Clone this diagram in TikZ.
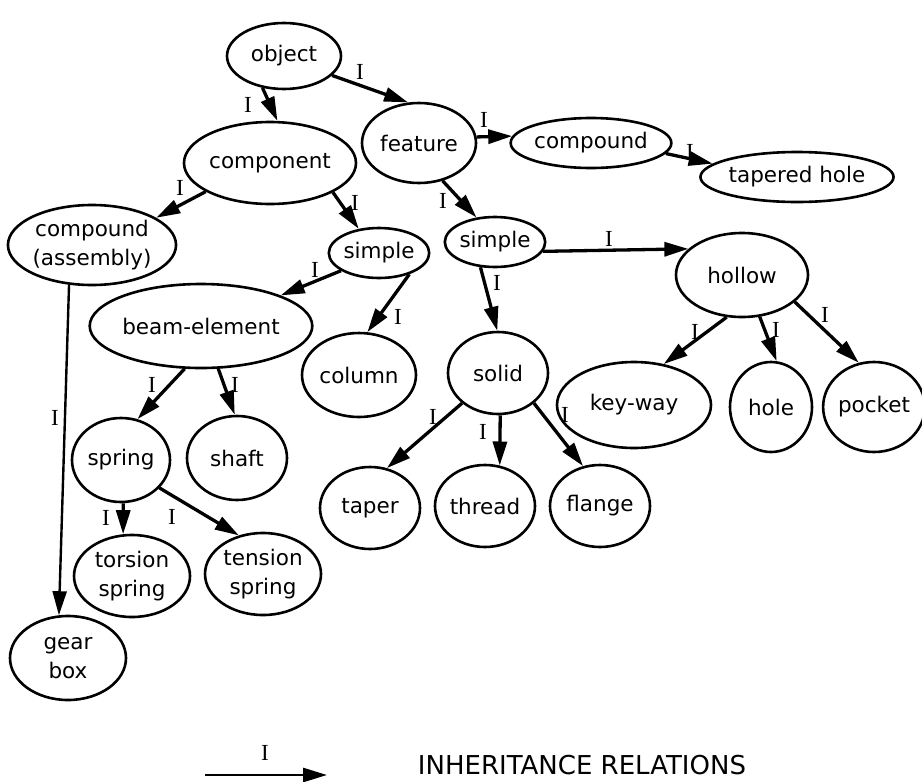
\documentclass[tikz,border=0pt]{standalone}
\usepackage{fontspec}
\setmainfont{DejaVu Sans}
\newfontfamily\labelserif{Liberation Serif}
\usetikzlibrary{arrows.meta,shapes.geometric}
\begin{document}
\begin{tikzpicture}[x=1pt,y=-1pt,
  cls/.style={draw, ellipse, line width=2.6pt, inner sep=0pt, align=center,
    font=\fontsize{21.5}{29}\selectfont},
  inh/.style={line width=3.3pt, -{Triangle[length=24pt,width=14pt]}},
  lab/.style={font=\labelserif\fontsize{23}{23}\selectfont, inner sep=0pt}
]
\useasboundingbox (0,0) rectangle (922,782);

% class nodes
\node[cls, minimum width=114pt, minimum height=66pt] (object)    at (284,56)  {object};
\node[cls, minimum width=146pt, minimum height=82pt] (component) at (270,163) {component};
\node[cls, minimum width=114pt, minimum height=80pt] (feature)   at (419,143) {feature};
\node[cls, minimum width=132pt, minimum height=50pt] (fcompound) at (591,143) {compound};
\node[cls, minimum width=180pt, minimum height=50pt] (tapered)   at (797,177) {tapered hole};
\node[cls, minimum width=152pt, minimum height=80pt] (assembly)  at (92,245)  {compound\\(assembly)};
\node[cls, minimum width=98pt,  minimum height=50pt] (csimple)   at (379,253) {simple};
\node[cls, minimum width=100pt, minimum height=50pt] (fsimple)   at (495,242) {simple};
\node[cls, minimum width=132pt, minimum height=84pt] (hollow)    at (742,275) {hollow};
\node[cls, minimum width=198pt, minimum height=84pt] (beam)      at (201,326) {beam-element};
\node[cls, minimum width=114pt, minimum height=84pt] (column)    at (359,375) {column};
\node[cls, minimum width=100pt, minimum height=82pt] (solid)     at (498,373) {solid};
\node[cls, minimum width=154pt, minimum height=86pt] (keyway)    at (634,405) {key-way};
\node[cls, minimum width=82pt,  minimum height=90pt] (hole)      at (771,407) {hole};
\node[cls, minimum width=92pt,  minimum height=90pt] (pocket)    at (874,407) {pocket};
\node[cls, minimum width=98pt,  minimum height=84pt] (spring)    at (121,460) {spring};
\node[cls, minimum width=100pt, minimum height=84pt] (shaft)     at (237,458) {shaft};
\node[cls, minimum width=100pt, minimum height=82pt] (taper)     at (370,508) {taper};
\node[cls, minimum width=100pt, minimum height=82pt] (thread)    at (485,506) {thread};
\node[cls, minimum width=100pt, minimum height=82pt] (flange)    at (600,506) {flange};
\node[cls, minimum width=116pt, minimum height=82pt] (torsion)   at (132,576) {torsion\\spring};
\node[cls, minimum width=116pt, minimum height=82pt] (tension)   at (263,574) {tension\\spring};
\node[cls, minimum width=116pt, minimum height=84pt] (gearbox)   at (68,658)  {gear\\box};

% inheritance links
\draw[inh] (object.236)    -- (component.80);
\draw[inh] (object.338)    -- (feature.105);
\draw[inh] (component.204) -- (assembly.23);
\draw[inh] (component.335) -- (csimple.130);
\draw[inh] (feature.302)   -- (fsimple.127);
\draw[inh] (feature.6)     -- (fcompound.175);
\draw[inh] (fcompound.352) -- (tapered.171);
\draw[inh] (fsimple.349)   -- (hollow.154);
\draw[inh] (fsimple.240)   -- (solid.91);
\draw[inh] (csimple.205)   -- (beam.21);
\draw[inh] (csimple.325)   -- (column.79);
\draw[inh] (beam.249)      -- (spring.68);
\draw[inh] (beam.292)      -- (shaft.93);
\draw[inh, line width=2.4pt] (assembly.240) -- (gearbox.102);
\draw[inh] (spring.273)    -- (torsion.102);
\draw[inh] (spring.324)    -- (tension.122);
\draw[inh] (solid.220)     -- (taper.67);
\draw[inh] (solid.273)     -- (thread.70);
\draw[inh] (solid.320)     -- (flange.113);
\draw[inh] (hollow.250)    -- (keyway.54);
\draw[inh] (hollow.293)    -- (hole.83);
\draw[inh] (hollow.333)    -- (pocket.109);

% link labels
\node[lab] (l1)  at (248,105) {I};
\node[lab] (l2)  at (360,72)  {I};
\node[lab] (l3)  at (180,188) {I};
\node[lab] (l4)  at (355,203) {I};
\node[lab] (l5)  at (443,201) {I};
\node[lab] (l6)  at (484,120) {I};
\node[lab] (l7)  at (690,152) {I};
\node[lab] (l8)  at (609,239) {I};
\node[lab] (l9)  at (497,283) {I};
\node[lab] (l10) at (315,270) {I};
\node[lab] (l11) at (398,317) {I};
\node[lab] (l12) at (152,385) {I};
\node[lab] (l13) at (235,385) {I};
\node[lab] (l14) at (55,418)  {I};
\node[lab] (l15) at (106,518) {I};
\node[lab] (l16) at (172,517) {I};
\node[lab] (l17) at (433,417) {I};
\node[lab] (l18) at (483,432) {I};
\node[lab] (l19) at (565,415) {I};
\node[lab] (l20) at (695,332) {I};
\node[lab] (l21) at (776,330) {I};
\node[lab] (l22) at (825,315) {I};

% legend
\coordinate (legA) at (205,775);
\coordinate (legB) at (327,775);
\draw[inh, line width=2.8pt] (legA) -- (legB);
\node[lab] (legI) at (265,753) {I};
\node[inner sep=0pt, font=\fontsize{26}{26}\selectfont] (legtext) at (582,765) {INHERITANCE RELATIONS};
\end{tikzpicture}
\end{document}
